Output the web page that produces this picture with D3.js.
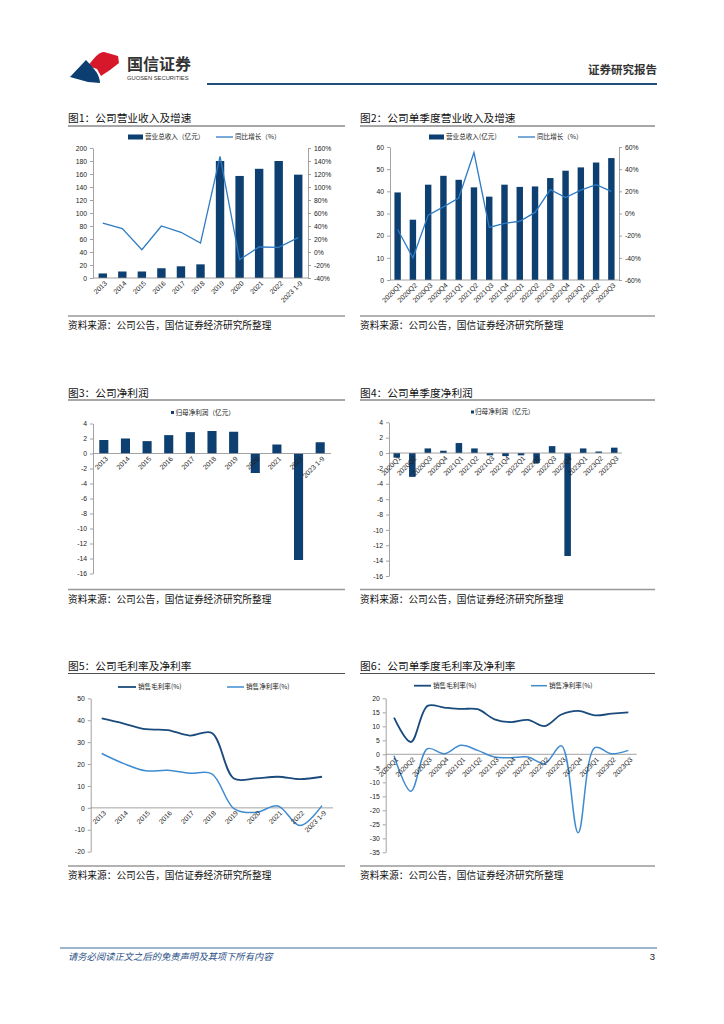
<!DOCTYPE html>
<html><head><meta charset="utf-8">
<script src="https://cdn.jsdelivr.net/npm/d3@7"></script>
<style>body{margin:0;background:#fff} svg{display:block}</style>
</head><body><svg id="c" width="724" height="1024"></svg>
<script>
// ---------- data ----------
const yearCats = ["2013","2014","2015","2016","2017","2018","2019","2020","2021","2022","2023 1-9"];
const quarterCats = ["2020Q1","2020Q2","2020Q3","2020Q4","2021Q1","2021Q2","2021Q3","2021Q4","2022Q1","2022Q2","2022Q3","2022Q4","2023Q1","2023Q2","2023Q3"];
const annualRevenue = [7,10,10,15,18,21,180,157,168,180,159];
const annualRevenueGrowth = [44.6,35.9,3.6,40,30.3,13.8,147,-11.8,7.7,7,22];
const quarterRevenue = [39.5,27.2,43,47,45.2,41.8,37.6,43,42,42.2,46,49.3,50.8,53,55];
const quarterRevenueGrowth = [-14.4,-40,-1.5,6,14,55,-12.6,-9,-7,1,21.6,14.4,21,26,20];
const annualNetProfit = [1.8,2.0,1.65,2.45,2.85,3.0,2.9,-2.6,1.2,-14.2,1.5];
const quarterNetProfit = [-0.6,-3.1,0.6,0.3,1.3,0.6,-0.3,-0.4,-0.3,-1.3,0.9,-13.4,0.6,0.2,0.7];
const annualGrossMargin = [40.8,38.5,35.9,35.5,33,34.2,13.4,13.5,14.2,13.1,14.2];
const annualNetMargin = [24.8,20.2,16.9,17.2,15.8,15.5,-0.3,-2.1,0.9,-8.1,1.0];
const quarterGrossMargin = [13.1,4.4,17.3,16.7,16.2,16.1,12.5,11.5,12.3,10.1,14.2,15.5,13.9,14.5,15];
const quarterNetMargin = [-0.5,-13.2,2.0,0.2,3.2,1.4,-1.0,-1.2,-1.0,-3.3,3.0,-28,2.4,0.2,1.4];
const ticksRev = [0,20,40,60,80,100,120,140,160,180,200];
const ticksRevPct = [-40,-20,0,20,40,60,80,100,120,140,160];
const ticksQRev = [0,10,20,30,40,50,60];
const ticksQRevPct = [-60,-40,-20,0,20,40,60];
const ticksProfit = [-16,-14,-12,-10,-8,-6,-4,-2,0,2,4];
const ticksMargin = [-20,-10,0,10,20,30,40,50];
const ticksQMargin = [-35,-30,-25,-20,-15,-10,-5,0,5,10,15,20];

// ---------- styles ----------
const svg = d3.select("#c");
const CJK = '"Noto Sans CJK SC","Liberation Sans",sans-serif';
const NUM = '"Liberation Sans",Arial,sans-serif';
const BAR = '#0d3f70', LINE1 = '#2e7bc4', DARK = '#1a4b7c', LIGHT = '#3f8bd0';
const AX = '#8c8c8c';
const SRC = '资料来源：公司公告，国信证券经济研究所整理';
const SMOOTH = d3.curveCatmullRom.alpha(0.5);

svg.append('rect').attr('width',724).attr('height',1024).attr('fill','#fff');

// ---------- header ----------
svg.append('path').attr('d','M88,66 C94,58 99,52 104,52 L118,56 L119,63 C113,68 107,72 101,76 L97,69 Z').attr('fill','#d7182a');
svg.append('path').attr('d','M70,77 L86,60 C90,64 94,69 97,73 C99,77 100,80 100,83 L88,82 Z').attr('fill','#0c3e72');
svg.append('text').attr('x',127).attr('y',69.5).text('国信证券').attr('font-family',CJK).attr('font-weight','bold').attr('font-size',16).attr('fill','#333');
svg.append('text').attr('x',127).attr('y',79.5).text('GUOSEN SECURITIES').attr('font-family',NUM).attr('font-size',5.8).attr('fill','#333');
svg.append('line').attr('x1',207).attr('x2',657).attr('y1',84).attr('y2',84).attr('stroke','#1f4e79').attr('stroke-width',2);
svg.append('text').attr('x',657).attr('y',74).attr('text-anchor','end').text('证券研究报告').attr('font-family',CJK).attr('font-weight','bold').attr('font-size',11.5).attr('fill','#333');

// ---------- footer ----------
svg.append('line').attr('x1',60).attr('x2',657).attr('y1',948).attr('y2',948).attr('stroke','#3a6a9a').attr('stroke-width',1);
svg.append('text').attr('x',68).attr('y',960).text('请务必阅读正文之后的免责声明及其项下所有内容').attr('font-family',CJK).attr('font-style','italic').attr('font-size',9.3).attr('fill','#2a4f86');
svg.append('text').attr('x',655).attr('y',960).attr('text-anchor','end').text('3').attr('font-family',NUM).attr('font-size',9.5).attr('fill','#222');

// ---------- helpers ----------
function panel(x0,x1,titleY,lineY,srcLineY,srcY,title){
  svg.append('text').attr('x',x0).attr('y',titleY).text(title).attr('font-family',CJK).attr('font-size',10.7).attr('fill','#111');
  svg.append('line').attr('x1',x0).attr('x2',x1).attr('y1',lineY).attr('y2',lineY).attr('stroke','#222').attr('stroke-width',0.8);
  svg.append('line').attr('x1',x0).attr('x2',x1).attr('y1',srcLineY).attr('y2',srcLineY).attr('stroke','#999').attr('stroke-width',1.5);
  svg.append('text').attr('x',x0).attr('y',srcY).text(SRC).attr('font-family',CJK).attr('font-size',9.7).attr('fill','#111');
}
function yAxis(scale,x,ticks,fmt,side){
  const ax = (side==='right'?d3.axisRight(scale):d3.axisLeft(scale)).tickValues(ticks).tickSize(3).tickSizeOuter(0).tickFormat(fmt);
  const g = svg.append('g').attr('transform',`translate(${x},0)`).call(ax);
  g.select('.domain').attr('stroke',AX).attr('stroke-width',0.8);
  g.selectAll('.tick line').attr('stroke',AX).attr('stroke-width',0.8);
  g.selectAll('text').attr('font-family',NUM).attr('font-size',6.8).attr('fill','#222');
  return g;
}
function hLine(x0,x1,y){
  svg.append('line').attr('x1',x0).attr('x2',x1).attr('y1',y).attr('y2',y).attr('stroke',AX).attr('stroke-width',0.8);
}
function xLabels(cats,x,y,dx,dy){
  const g = svg.append('g');
  cats.forEach(c=>{
    const cx = x(c)+x.bandwidth()/2+dx, cy = y+dy;
    g.append('text').attr('x',cx).attr('y',cy).attr('text-anchor','end')
      .attr('transform',`rotate(-45,${cx},${cy})`).attr('dy','0.35em')
      .text(c).attr('font-family',NUM).attr('font-size',6.9).attr('fill','#222');
  });
}
function bars(cats,vals,x,y,ratio,color){
  const w = x.bandwidth()*ratio;
  svg.append('g').selectAll('rect').data(vals).join('rect')
    .attr('x',(d,i)=>x(cats[i])+(x.bandwidth()-w)/2)
    .attr('y',d=>Math.min(y(d),y(0)))
    .attr('width',w)
    .attr('height',d=>Math.abs(y(d)-y(0)))
    .attr('fill',color);
}
function line(cats,vals,x,y,color,width,curve){
  const gen = d3.line().x((d,i)=>x(cats[i])+x.bandwidth()/2).y(d=>y(d));
  if(curve) gen.curve(curve);
  svg.append('path').attr('d',gen(vals)).attr('fill','none').attr('stroke',color).attr('stroke-width',width);
}
function legendText(x,y,t){
  svg.append('text').attr('x',x).attr('y',y).attr('dy','0.35em').text(t).attr('font-family',CJK).attr('font-size',6.6).attr('fill','#222');
}
function legendBar(x,y,w,h,t,tx){
  svg.append('rect').attr('x',x).attr('y',y-h/2).attr('width',w).attr('height',h).attr('fill',BAR);
  legendText(tx,y,t);
}
function legendLine(x,y,w,color,sw,t){
  svg.append('line').attr('x1',x).attr('x2',x+w).attr('y1',y).attr('y2',y).attr('stroke',color).attr('stroke-width',sw);
  legendText(x+w+2,y,t);
}
const pct = d=>d+'%';
const num = d=>d;

// ---------- Chart 1 ----------
panel(68,345,121.5,126,316,328.5,'图1：公司营业收入及增速');
{
  const x = d3.scaleBand().domain(yearCats).range([93,308]);
  const y = d3.scaleLinear().domain([0,200]).range([278,148]);
  const yR = d3.scaleLinear().domain([-40,160]).range([278,148]);
  bars(yearCats,annualRevenue,x,y,0.43,BAR);
  yAxis(y,93,ticksRev,num,'left');
  yAxis(yR,308,ticksRevPct,pct,'right');
  hLine(93,308,278);
  line(yearCats,annualRevenueGrowth,x,yR,LINE1,1.3);
  xLabels(yearCats,x,278,3,4);
  legendBar(128,137,15,5,'营业总收入（亿元）',145);
  legendLine(216,137,17,LINE1,1.3,'同比增长（%）');
}

// ---------- Chart 2 ----------
panel(360,655,121.5,126,316,328.5,'图2：公司单季度营业收入及增速');
{
  const x = d3.scaleBand().domain(quarterCats).range([390,619]);
  const y = d3.scaleLinear().domain([0,60]).range([280,147]);
  const yR = d3.scaleLinear().domain([-60,60]).range([280,147]);
  bars(quarterCats,quarterRevenue,x,y,0.42,BAR);
  yAxis(y,390,ticksQRev,num,'left');
  yAxis(yR,619,ticksQRevPct,pct,'right');
  hLine(390,619,280);
  line(quarterCats,quarterRevenueGrowth,x,yR,LINE1,1.3);
  xLabels(quarterCats,x,280,3,4);
  legendBar(429,137,15,5,'营业总收入(亿元)',446);
  legendLine(518,137,17,LINE1,1.3,'同比增长（%）');
}

// ---------- Chart 3 ----------
panel(68,345,396.5,400,589.5,603,'图3：公司净利润');
{
  const x = d3.scaleBand().domain(yearCats).range([93,331]);
  const y = d3.scaleLinear().domain([-16,4]).range([573.5,423.5]);
  bars(yearCats,annualNetProfit,x,y,0.42,BAR);
  yAxis(y,93,ticksProfit,num,'left');
  hLine(93,331,y(0));
  xLabels(yearCats,x,y(0),3,4);
  legendBar(171,412.5,3,3,'归母净利润（亿元）',175.5);
}

// ---------- Chart 4 ----------
panel(360,655,396.5,400,589.5,603,'图4：公司单季度净利润');
{
  const x = d3.scaleBand().domain(quarterCats).range([389,622]);
  const y = d3.scaleLinear().domain([-16,4]).range([576,422.3]);
  bars(quarterCats,quarterNetProfit,x,y,0.42,BAR);
  yAxis(y,389,ticksProfit,num,'left');
  hLine(389,622,y(0));
  xLabels(quarterCats,x,y(0),3,4);
  legendBar(471,412,3,3,'归母净利润（亿元）',475);
}

// ---------- Chart 5 ----------
panel(68,345,670,673.5,866,879,'图5：公司毛利率及净利率');
{
  const x = d3.scaleBand().domain(yearCats).range([90.7,333]);
  const y = d3.scaleLinear().domain([-20,50]).range([851.7,698.3]);
  yAxis(y,90.7,ticksMargin,num,'left');
  hLine(90.7,333,y(0));
  line(yearCats,annualGrossMargin,x,y,DARK,1.8,SMOOTH);
  line(yearCats,annualNetMargin,x,y,LIGHT,1.5,SMOOTH);
  xLabels(yearCats,x,y(0),3,4);
  legendLine(118,687,18,DARK,1.8,'销售毛利率(%)');
  legendLine(227,687,17,LIGHT,1.5,'销售净利率(%)');
}

// ---------- Chart 6 ----------
panel(360,655,670,673.5,866,879,'图6：公司单季度毛利率及净利率');
{
  const x = d3.scaleBand().domain(quarterCats).range([385.7,636.7]);
  const y = d3.scaleLinear().domain([-35,20]).range([852.3,698.3]);
  yAxis(y,385.7,ticksQMargin,num,'left');
  hLine(385.7,636.7,y(0));
  line(quarterCats,quarterGrossMargin,x,y,DARK,1.8,SMOOTH);
  line(quarterCats,quarterNetMargin,x,y,LIGHT,1.5,SMOOTH);
  xLabels(quarterCats,x,y(0),3,4);
  legendLine(414,685.7,17,DARK,1.8,'销售毛利率(%)');
  legendLine(531,685.7,16,LIGHT,1.5,'销售净利率(%)');
}
</script></body></html>
